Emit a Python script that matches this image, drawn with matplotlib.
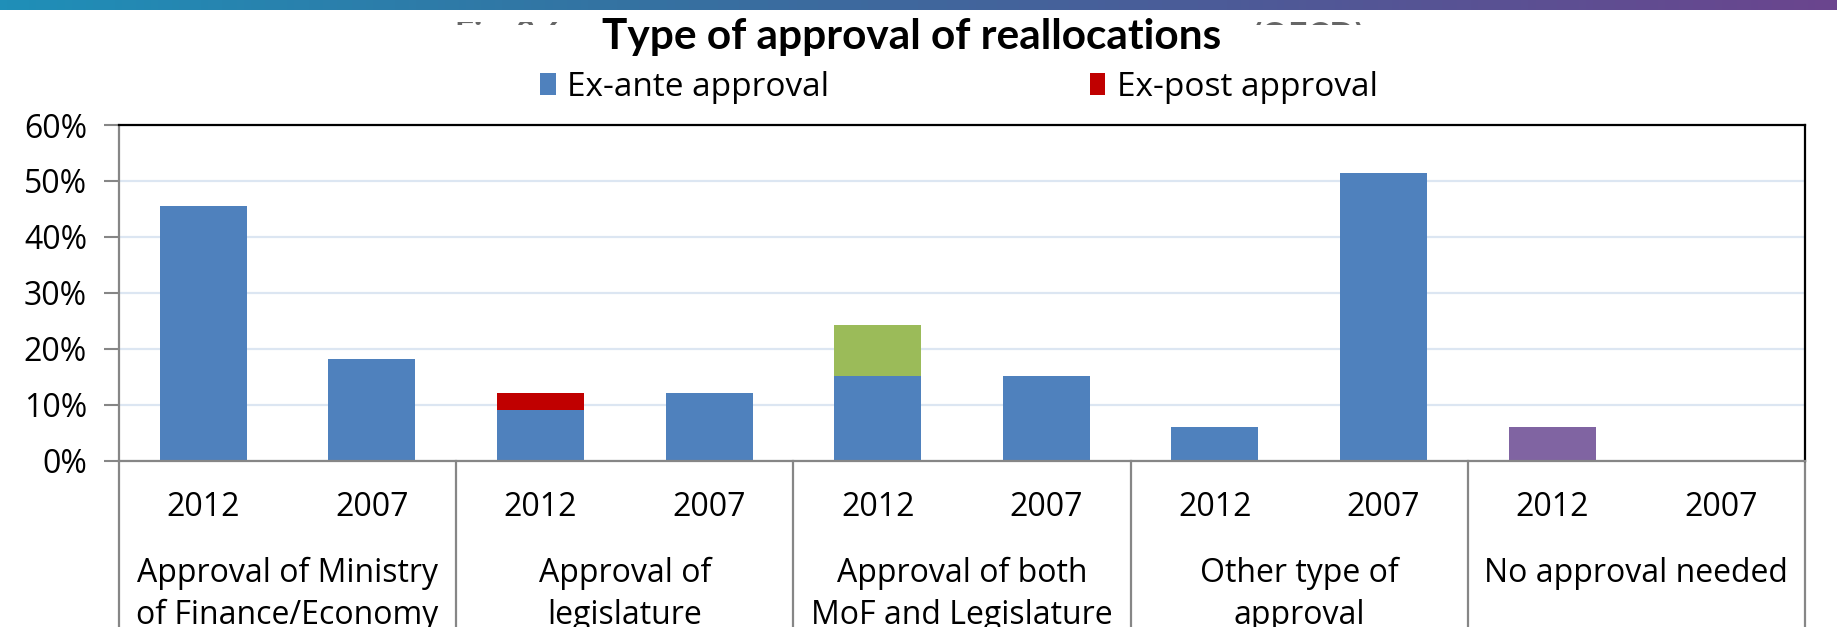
import matplotlib

matplotlib.use("Agg")
import matplotlib.pyplot as plt
import numpy as np
from matplotlib.colors import LinearSegmentedColormap
from matplotlib.transforms import Bbox, blended_transform_factory

# shares of countries, in %
groups = [
    "Approval of Ministry\nof Finance/Economy",
    "Approval of\nlegislature",
    "Approval of both\nMoF and Legislature",
    "Other type of\napproval",
    "No approval needed",
]
years = ["2012", "2007"] * 5
ex_ante = [45.5, 18.2, 9.1, 12.1, 15.2, 15.2, 6.1, 51.5, 0.0, 0.0]
ex_post = [0.0, 0.0, 3.0, 0.0, 0.0, 0.0, 0.0, 0.0, 0.0, 0.0]
both = [0.0, 0.0, 0.0, 0.0, 9.1, 0.0, 0.0, 0.0, 0.0, 0.0]
none_needed = [0.0, 0.0, 0.0, 0.0, 0.0, 0.0, 0.0, 0.0, 6.1, 0.0]
yticks = [0, 10, 20, 30, 40, 50, 60]

W, H = 1837, 627
FONT = "Open Sans"
plt.rcParams["font.family"] = [FONT, "DejaVu Sans"]

fig = plt.figure(figsize=(W / 100, H / 100), dpi=100)

# gradient band along the top edge
gax = fig.add_axes([0, 1 - 10 / H, 1, 10 / H])
band = LinearSegmentedColormap.from_list("band", ["#1f8fb8", "#3473a2", "#4c5b98", "#6b458e"])
gax.imshow(np.linspace(0, 1, 512)[None, :], aspect="auto", cmap=band)
gax.axis("off")

# leftovers of the old caption peeking out above the title
clip = Bbox.from_extents(0, H - 25, W, H - 21.5)
for txt, x, ha in [("Fig. 3.6", 455, "left"), ("(OECD)", 1365, "right")]:
    t = fig.text(x / W, 1 - 20 / H, txt, ha=ha, va="top", fontsize=24,
                 fontweight="bold", color="#666666", family="Lato")
    t.set_clip_box(clip)

fig.text(912 / W, 1 - 37 / H, "Type of approval of reallocations", ha="center",
         va="center", fontsize=30.5, fontweight="bold", family="Lato")

ax = fig.add_axes([119 / W, 1 - 460.7 / H, (1805 - 119) / W, (460.7 - 125) / H])
x = np.arange(len(years))
w = 0.516
b1 = ax.bar(x, ex_ante, w, color="#4f81bd", label="Ex-ante approval")
bot = np.array(ex_ante)
b2 = ax.bar(x, ex_post, w, bottom=bot, color="#c00000", label="Ex-post approval")
bot = bot + np.array(ex_post)
ax.bar(x, both, w, bottom=bot, color="#9bbb59")
bot = bot + np.array(both)
ax.bar(x, none_needed, w, bottom=bot, color="#8064a2")

ax.set_xlim(-0.5, len(years) - 0.5)
ax.set_ylim(0, 60)
ax.set_yticks(yticks)
ax.set_yticklabels([f"{v}%" for v in yticks])
ax.yaxis.grid(True, color="#dce6f2", linewidth=1.6)
ax.set_axisbelow(True)
ax.tick_params(axis="y", direction="out", length=11, width=1.5, color="#868686",
               labelsize=23, pad=12)
ax.set_xticks(x)
ax.set_xticklabels(years)
ax.tick_params(axis="x", length=0, labelsize=23, pad=22)

for s in ["left", "bottom"]:
    ax.spines[s].set_color("#868686")
    ax.spines[s].set_linewidth(1.6)
for s in ["top", "right"]:
    ax.spines[s].set_color("black")
    ax.spines[s].set_linewidth(1.6)

# category table below the axis
below = -(H - 460.7) / (460.7 - 125)
tr = blended_transform_factory(ax.transData, ax.transAxes)
for xs in np.arange(-0.5, len(years), 2):
    ax.plot([xs, xs], [0, below], transform=tr, color="#868686", lw=1.6,
            clip_on=False)
for i, g in enumerate(groups):
    ax.text(2 * i + 0.5, -0.286, g, transform=tr, ha="center", va="top",
            fontsize=23, linespacing=1.35)

ax.legend(handles=[b1, b2], ncol=2, loc="center", frameon=False,
          bbox_to_anchor=(959 / W, 1 - 87 / H), bbox_transform=fig.transFigure,
          fontsize=24, handlelength=0.47, handleheight=0.66, handletextpad=0.34,
          columnspacing=7.8)

fig.savefig("out.png", dpi=100)
